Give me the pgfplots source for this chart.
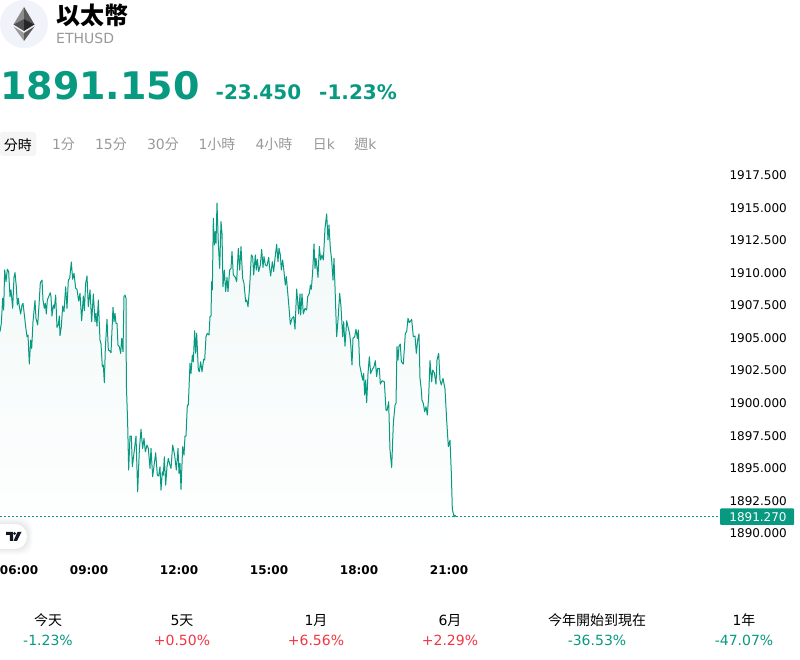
\documentclass[border=0pt]{standalone}
\usepackage{fontspec}
\usepackage{pgfplots}
\usepackage{pgfplotstable}
\pgfplotsset{compat=1.18}
\setmainfont{DejaVu Sans}
\newfontfamily\cjk{Noto Sans CJK TC}
\newcommand\fs[1]{\fontsize{#1}{#1}\selectfont}
\definecolor{tvgreen}{HTML}{089981}
\definecolor{tvred}{HTML}{F23645}
\definecolor{tvgray}{HTML}{999999}
\definecolor{logobg}{HTML}{F0F3FA}
\definecolor{tvink}{HTML}{131722}
% x = steps of 40 seconds from about 06:02, y = price
\pgfplotstableread{
x p
0 1905.43
4 1906.07
8 1907.99
11 1907.09
14 1910.17
18 1909.27
22 1910.22
26 1910.04
30 1908.12
33 1908.63
38 1907.22
42 1909.60
45 1909.96
49 1908.88
52 1907.47
55 1907.99
58 1907.35
62 1906.79
66 1907.47
69 1907.60
72 1906.96
77 1905.81
81 1905.04
84 1905.17
88 1902.94
92 1904.78
95 1904.14
99 1906.19
105 1907.81
108 1906.45
113 1905.94
117 1907.47
121 1909.19
126 1909.39
129 1907.86
133 1907.22
136 1907.60
139 1906.79
142 1907.86
148 1908.24
151 1908.42
153 1908.12
156 1906.63
160 1907.47
163 1907.22
167 1908.24
171 1905.76
175 1905.94
178 1906.63
180 1905.12
184 1905.81
188 1907.40
192 1906.96
197 1908.88
201 1907.22
205 1909.39
209 1909.52
214 1910.78
218 1909.45
222 1909.91
227 1908.76
231 1908.68
236 1907.78
240 1908.37
245 1906.27
250 1908.17
253 1907.04
257 1909.14
261 1909.70
265 1907.35
270 1908.63
275 1906.19
280 1908.32
285 1906.19
288 1906.83
291 1905.86
295 1907.86
300 1904.78
303 1904.48
307 1902.74
310 1902.87
313 1901.51
316 1904.14
321 1906.37
325 1904.02
329 1903.96
333 1903.81
339 1907.30
342 1906.19
345 1906.83
348 1906.07
351 1906.07
354 1904.40
358 1904.27
362 1903.76
365 1904.91
369 1903.89
372 1908.12
375 1908.24
378 1907.99
379 1901.46
383 1898.38
386 1894.80
390 1897.41
394 1897.41
397 1895.05
403 1896.33
408 1897.41
413 1893.13
418 1896.33
423 1897.92
428 1896.46
432 1897.23
436 1896.21
441 1896.72
445 1896.46
450 1894.93
453 1896.46
458 1894.29
463 1895.31
467 1896.13
472 1894.41
476 1894.34
480 1895.05
483 1893.26
487 1894.67
490 1894.41
493 1895.82
497 1893.64
501 1895.05
505 1895.69
509 1895.26
513 1894.93
518 1896.72
524 1895.95
529 1894.80
534 1896.46
537 1894.54
540 1895.31
543 1893.31
548 1896.59
552 1895.95
555 1897.41
558 1897.41
562 1899.79
565 1899.79
570 1902.99
573 1902.22
577 1903.63
580 1903.12
584 1905.50
587 1903.76
590 1905.30
595 1902.48
598 1902.35
602 1903.12
606 1902.35
611 1903.30
614 1903.25
618 1905.04
622 1905.30
627 1905.17
630 1906.58
633 1906.63
635 1909.27
637 1908.63
640 1914.13
643 1912.08
646 1913.11
648 1912.21
651 1915.29
655 1912.21
659 1910.29
663 1913.88
666 1912.98
669 1908.88
673 1910.16
677 1908.50
681 1909.60
684 1908.50
689 1910.16
693 1910.29
696 1911.57
700 1909.78
706 1909.60
710 1909.27
715 1911.83
719 1910.16
723 1911.96
728 1909.52
732 1909.14
737 1907.73
740 1907.86
744 1907.35
749 1908.88
754 1911.32
758 1911.19
761 1909.78
766 1911.32
769 1910.16
772 1910.98
776 1910.04
781 1910.55
785 1911.75
789 1910.37
792 1911.19
796 1910.55
801 1910.47
806 1911.14
809 1910.29
812 1909.70
817 1910.80
821 1910.04
825 1911.06
830 1912.14
834 1910.80
837 1911.83
841 1911.32
844 1910.16
848 1910.93
852 1910.04
856 1909.01
859 1909.65
862 1908.76
866 1907.60
871 1905.99
876 1906.45
881 1906.58
885 1905.63
890 1908.70
896 1906.79
900 1908.32
902 1906.71
906 1908.32
910 1906.79
915 1907.22
920 1907.09
923 1908.12
928 1908.37
931 1909.01
934 1908.68
938 1910.04
942 1912.16
945 1910.29
948 1911.06
954 1909.60
958 1911.96
962 1910.93
966 1911.32
970 1910.93
975 1913.36
980 1914.47
984 1912.47
987 1913.62
991 1911.83
995 1910.93
999 1909.39
1002 1911.06
1005 1908.88
1010 1905.04
1014 1906.32
1019 1908.37
1023 1907.35
1028 1905.04
1031 1906.19
1035 1904.32
1040 1906.27
1044 1905.81
1049 1905.25
1052 1904.53
1056 1902.87
1059 1904.91
1064 1905.04
1068 1905.61
1072 1904.91
1075 1905.55
1079 1902.87
1083 1902.35
1088 1901.71
1091 1902.22
1094 1900.56
1097 1901.71
1100 1899.97
1104 1902.22
1108 1903.50
1112 1902.22
1117 1902.53
1122 1902.74
1126 1903.20
1130 1901.97
1133 1902.61
1138 1902.61
1141 1901.40
1146 1901.66
1153 1901.58
1158 1899.41
1161 1899.36
1166 1900.05
1170 1896.33
1175 1895.00
1180 1898.38
1185 1899.79
1188 1899.92
1191 1904.27
1194 1903.25
1197 1904.32
1201 1904.48
1204 1903.12
1210 1902.94
1216 1905.30
1220 1905.43
1224 1906.45
1228 1906.12
1235 1906.37
1240 1905.04
1245 1905.09
1249 1903.76
1253 1904.78
1257 1905.25
1260 1901.84
1264 1900.94
1266 1900.17
1270 1899.92
1274 1899.28
1278 1899.66
1282 1899.02
1286 1900.43
1290 1903.20
1295 1901.58
1298 1902.48
1303 1902.27
1308 1901.40
1311 1903.25
1316 1903.76
1320 1901.71
1324 1901.33
1329 1901.84
1335 1901.02
1340 1898.64
1345 1896.59
1350 1897.10
1354 1894.54
1357 1891.77
1361 1891.34
1367 1891.27
}\ethdata
\begin{document}
\begin{tikzpicture}
\path[use as bounding box] (0pt,0pt) rectangle (800pt,660pt);
\fill[white] (0pt,0pt) rectangle (800pt,660pt);
\begin{axis}[
  at={(0pt,110pt)}, anchor=south west,
  scale only axis, width=720pt, height=390pt,
  xmin=0, xmax=2160, ymin=1888.66, ymax=1918.61,
  clip=true,
  axis line style={draw=none},
  tick style={draw=none},
  ytick={1890,1892.5,1895,1897.5,1900,1902.5,1905,1907.5,1910,1912.5,1915,1917.5},
  ytick pos=right, yticklabel pos=right,
  y tick label style={/pgf/number format/.cd, fixed, fixed zerofill, precision=3, 1000 sep={}, assume math mode=true, /tikz/.cd, font=\fs{12}, anchor=west, xshift=6pt, yshift=-0.8pt},
  xtick={57,267,537,807,1077,1347},
  xticklabels={06:00,09:00,12:00,15:00,18:00,21:00},
  x tick label style={font=\fs{12}\bfseries, anchor=center, yshift=-20pt},
]
\addplot[draw=none, top color=tvgreen!6, bottom color=white, forget plot] table[x=x,y=p] {\ethdata} -- (axis cs:1367,1888.66) -- (axis cs:0,1888.66) -- cycle;
\addplot[color=tvgreen, line width=1pt, line join=round, no markers] table[x=x,y=p] {\ethdata};
\addplot[color=tvgreen, line width=0.9pt, dash pattern=on 2pt off 2pt, no markers] coordinates {(0,1891.27) (2160,1891.27)};
\addplot[color=tvgreen, only marks, mark=*, mark size=1pt] coordinates {(1364,1891.27)};
\end{axis}
\begin{scope}[x=1pt,y=-1pt,yshift=660pt]
  % logo
  \fill[logobg] (24,24) circle (24);
  \fill[black!45] (24,7) -- (13.5,24.5) -- (24,19) -- cycle;
  \fill[black!65] (24,7) -- (34.5,24.5) -- (24,19) -- cycle;
  \fill[black!68] (13.5,24.5) -- (24,19) -- (24,31) -- cycle;
  \fill[black!85] (34.5,24.5) -- (24,19) -- (24,31) -- cycle;
  \fill[black!40] (13.5,26.5) -- (24,33) -- (24,41) -- cycle;
  \fill[black!65] (34.5,26.5) -- (24,33) -- (24,41) -- cycle;
  % header
  \node[anchor=west,inner sep=0pt] at (56,15) {\cjk\bfseries\fs{24}以太幣};
  \node[anchor=west,inner sep=0pt,text=tvgray] at (56,38) {\fs{14}ETHUSD};
  \node[anchor=base west,inner sep=0pt,text=tvgreen] at (0,100) {\fs{38}\bfseries 1891.150};
  \node[anchor=base west,inner sep=0pt,text=tvgreen] at (215.5,100) {\fs{20}\bfseries -23.450};
  \node[anchor=base west,inner sep=0pt,text=tvgreen] at (319,100) {\fs{20}\bfseries -1.23\%};
  % tabs
  \fill[black!4,rounded corners=3pt] (0,132) rectangle (36,156);
  \node[inner sep=0pt] at (18,145) {\cjk\fs{14}分時};
  \begin{scope}[every node/.style={inner sep=0pt,text=tvgray,anchor=base}]
    \node at (63.5,150) {\fs{14}1{\cjk 分}};
    \node at (111,150) {\fs{14}15{\cjk 分}};
    \node at (163,150) {\fs{14}30{\cjk 分}};
    \node at (217,150) {\fs{14}1{\cjk 小時}};
    \node at (274,150) {\fs{14}4{\cjk 小時}};
    \node at (324,150) {\fs{14}{\cjk 日}k};
    \node at (365.5,150) {\fs{14}{\cjk 週}k};
  \end{scope}
  % last price tag
  \fill[tvgreen,rounded corners=1pt] (720,508.5) rectangle (794,525);
  \node[text=white,inner sep=0pt] at (758,517) {\fs{12}1891.270};
  % watermark
  \foreach \o/\g in {0.012/6,0.012/5,0.012/4,0.015/3,0.015/2,0.02/1}{
    \fill[black,opacity=\o,rounded corners=12pt] (-20,524-\g) rectangle (27+\g,549+\g);
  }
  \fill[white,rounded corners=12pt] (-20,524) rectangle (27,549);
  \fill[tvink] (6,532) -- (13,532) -- (13,541) -- (9.8,541) -- (9.8,535) -- (6,535) -- cycle;
  \fill[tvink] (14.6,533.5) circle (1.5);
  \fill[tvink] (17.5,532) -- (21.5,532) -- (17,541) -- (13.5,541) -- cycle;
  % period performance
  \begin{scope}[every node/.style={inner sep=0pt,anchor=base}]
    \node at (48,626) {\cjk\fs{14}今天};
    \node at (182,626) {\fs{14}5{\cjk 天}};
    \node at (316,626) {\fs{14}1{\cjk 月}};
    \node at (450,626) {\fs{14}6{\cjk 月}};
    \node at (597,626) {\cjk\fs{14}今年開始到現在};
    \node at (744,626) {\fs{14}1{\cjk 年}};
    \node[text=tvgreen] at (48,646) {\fs{14}-1.23\%};
    \node[text=tvred] at (182,646) {\fs{14}+0.50\%};
    \node[text=tvred] at (316,646) {\fs{14}+6.56\%};
    \node[text=tvred] at (450,646) {\fs{14}+2.29\%};
    \node[text=tvgreen] at (597,646) {\fs{14}-36.53\%};
    \node[text=tvgreen] at (744,646) {\fs{14}-47.07\%};
  \end{scope}
\end{scope}
\end{tikzpicture}
\end{document}
